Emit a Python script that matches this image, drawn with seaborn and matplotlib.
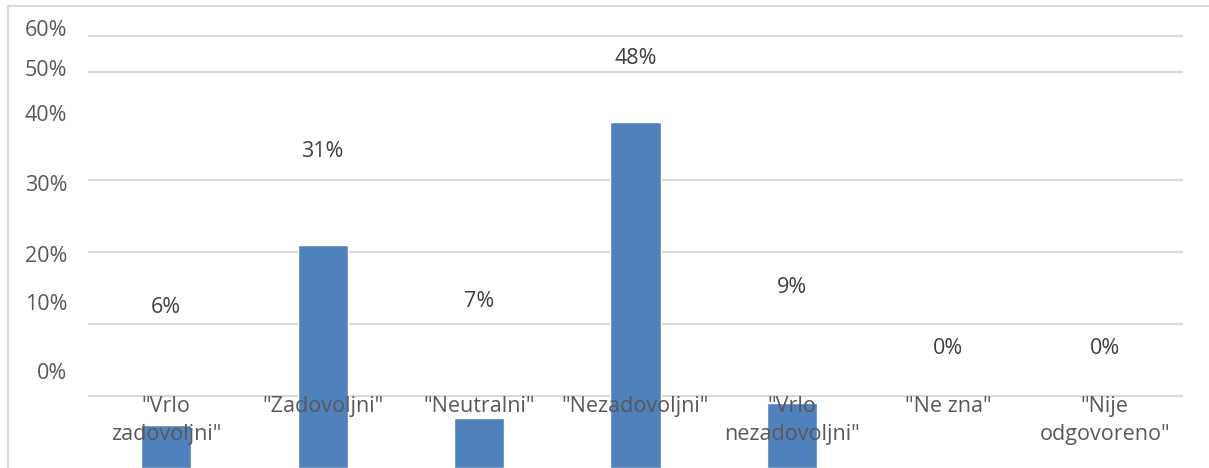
import matplotlib
matplotlib.use("Agg")
import matplotlib.pyplot as plt
from matplotlib.lines import Line2D
import seaborn as sns

# survey answers and their shares (%)
categories = ['"Vrlo\nzadovoljni"', '"Zadovoljni"', '"Neutralni"', '"Nezadovoljni"',
              '"Vrlo\nnezadovoljni"', '"Ne zna"', '"Nije\nodgovoreno"']
values = [6, 31, 7, 48, 9, 0, 0]
value_labels = ["6%", "31%", "7%", "48%", "9%", "0%", "0%"]

# the (misaligned) value axis as it appears in the picture
tick_labels = ["0%", "10%", "20%", "30%", "40%", "50%", "60%"]
tick_pos = [13.5, 23.1, 29.7, 39.6, 49.3, 55.6, 61.1]
grid_levels = [10, 20, 30, 40, 55, 60]

sns.set_style("white")
plt.rcParams["font.family"] = ["Open Sans", "DejaVu Sans"]

W, H = 1209, 468
fig = plt.figure(figsize=(W / 100, H / 100), dpi=100)
ax = fig.add_axes([88 / W, 0, (1183 - 88) / W, 1])

for g in grid_levels:
    ax.axhline(g, color="#d9d9d9", lw=1.6, zorder=0)

sns.barplot(x=list(range(len(values))), y=values, color="#4f81bd", saturation=1,
            width=0.32, ax=ax, zorder=2)

ax.set_xlim(-0.5, len(values) - 0.5)
ax.set_ylim(0, 65)
ax.set_xticks([])
ax.set_yticks(tick_pos)
ax.set_yticklabels(tick_labels, fontsize=15.5, color="#595959")
ax.tick_params(axis="y", length=0, pad=15)
for s in ax.spines.values():
    s.set_visible(False)
ax.set_xlabel("")
ax.set_ylabel("")

# data labels (placed the way they sit in the original)
for i, (v, lab) in enumerate(zip(values, value_labels)):
    ax.text(i, 16.6 + 0.958 * v - 0.00245 * v * v, lab, ha="center", va="center",
            fontsize=15.5, color="#404040", zorder=3)

# category labels
for i, c in enumerate(categories):
    ax.text(i, 10.05, c, ha="center", va="top", fontsize=15.5, color="#595959",
            linespacing=1.48, zorder=3)

# chart frame (left and top edges visible)
fig.add_artist(Line2D([8 / W, 8 / W], [0, 1 - 6 / H], color="#d9d9d9", lw=1.5,
                      transform=fig.transFigure))
fig.add_artist(Line2D([8 / W, 1], [1 - 6 / H, 1 - 6 / H], color="#d9d9d9", lw=1.5,
                      transform=fig.transFigure))

fig.savefig("out.png", dpi=100, facecolor="white")
